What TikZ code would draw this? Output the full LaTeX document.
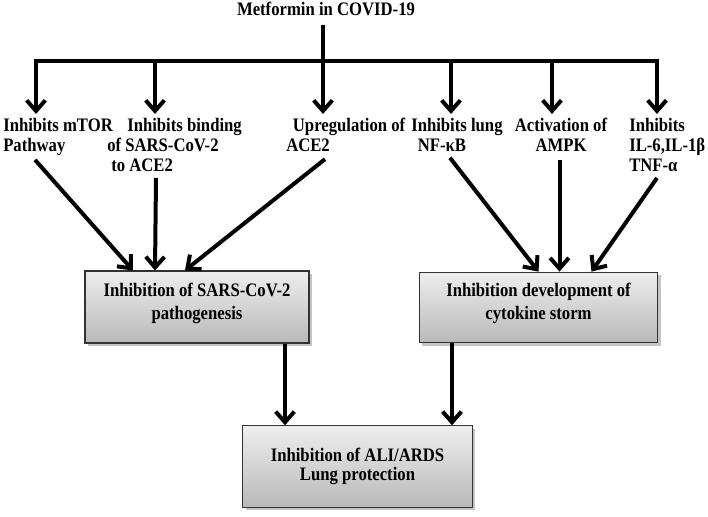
\documentclass[tikz,border=0pt]{standalone}
\usepackage{fontspec}
\setmainfont{Liberation Serif}[FakeStretch=0.875]
\usepackage{tikz}
\usetikzlibrary{arrows.meta, positioning, calc, shadows}
\definecolor{boxtop}{RGB}{238,238,238}
\definecolor{boxbottom}{RGB}{185,185,185}
\definecolor{boxline}{RGB}{50,50,50}

\begin{document}
\begin{tikzpicture}[x=0.75pt, y=-0.75pt,
    every node/.style={font=\bfseries\fontsize{14.3}{15}\selectfont},
    cause/.style={inner sep=0pt, align=left, anchor=north west},
    effect/.style={draw=boxline, line width=0.8pt, top color=boxtop, bottom color=boxbottom,
        align=center, font=\bfseries\fontsize{14.3}{17}\selectfont,
        drop shadow={shadow xshift=2pt, shadow yshift=-2pt, fill=black!45}},
    link/.style={line width=3pt},
    arr/.style={line width=3pt, -{Straight Barb[length=8pt, width=14pt]}}]

    \useasboundingbox (0,0) rectangle (708,517);

    \node (title) at (326,9) {Metformin in COVID-19};

    % what metformin does
    \node[cause] (mtor) at (3,118) {Inhibits mTOR\\Pathway};
    \node[cause] (binding) at (107,118) {\hspace{15pt}Inhibits binding\\of SARS-CoV-2\\\hspace{3pt}to ACE2};
    \node[cause] (ace) at (286,118) {\hspace{5pt}Upregulation of\\ACE2};
    \node[cause] (nfkb) at (411,118) {Inhibits lung\\\hspace{5pt}NF-κB};
    \node[cause, align=center, anchor=north] (ampk) at (561,118) {Activation of\\AMPK};
    \node[cause] (il) at (629,118) {Inhibits\\IL-6,IL-1β\\TNF-α};

    % outcomes
    \node[effect, minimum width=168pt, minimum height=54pt] (sars) at (197,307)
        {Inhibition of SARS-CoV-2\\pathogenesis\rule[-9pt]{0pt}{9pt}};
    \node[effect, minimum width=179pt, minimum height=53pt] (storm) at (538.5,307.5)
        {Inhibition development of\\cytokine storm\rule[-9pt]{0pt}{9pt}};
    \node[effect, minimum width=172pt, minimum height=61pt,
        font=\bfseries\fontsize{14.3}{14.5}\selectfont] (ali) at (357.5,466.5)
        {Inhibition of ALI/ARDS\\Lung protection};

    % fork under the title
    \coordinate (bar) at (323,61);
    \coordinate (fork-l) at (36,61);
    \coordinate (fork-r) at (657,61);
    \draw[link, shorten <=3pt] (title.south -| bar) -- (bar);
    \draw[link, line cap=rect] (fork-l) -- (fork-r);
    \foreach \x/\n in {36/mtor, 155/binding, 323/ace, 451/nfkb, 552/ampk, 657/il}
        \draw[arr, shorten >=3pt] (\x,61) -- (\x,0 |- \n.north);

    \draw[arr] ($(mtor.south west)+(32,4)$) -- ($(sars.north)+(-64,0)$);
    \draw[arr] ($(binding.south west)+(49,6)$) -- ($(sars.north)+(-42,0)$);
    \draw[arr] ($(ace.south west)+(39,7)$) -- ($(sars.north)+(-12,0)$);
    \draw[arr] ($(nfkb.south west)+(39,6)$) -- (storm.north);
    \draw[arr] ($(ampk.south)+(-1.5,8)$) -- ($(storm.north)+(21,0)$);
    \draw[arr] ($(il.south west)+(28,6)$) -- ($(storm.north)+(53,0)$);

    % down to lung protection
    \coordinate (sars-out) at ($(sars.south)+(88,0)$);
    \coordinate (storm-out) at ($(storm.south)+(-86.5,0)$);
    \draw[arr] (sars-out) -- (sars-out |- ali.north);
    \draw[arr] (storm-out) -- (storm-out |- ali.north);
\end{tikzpicture}
\end{document}
